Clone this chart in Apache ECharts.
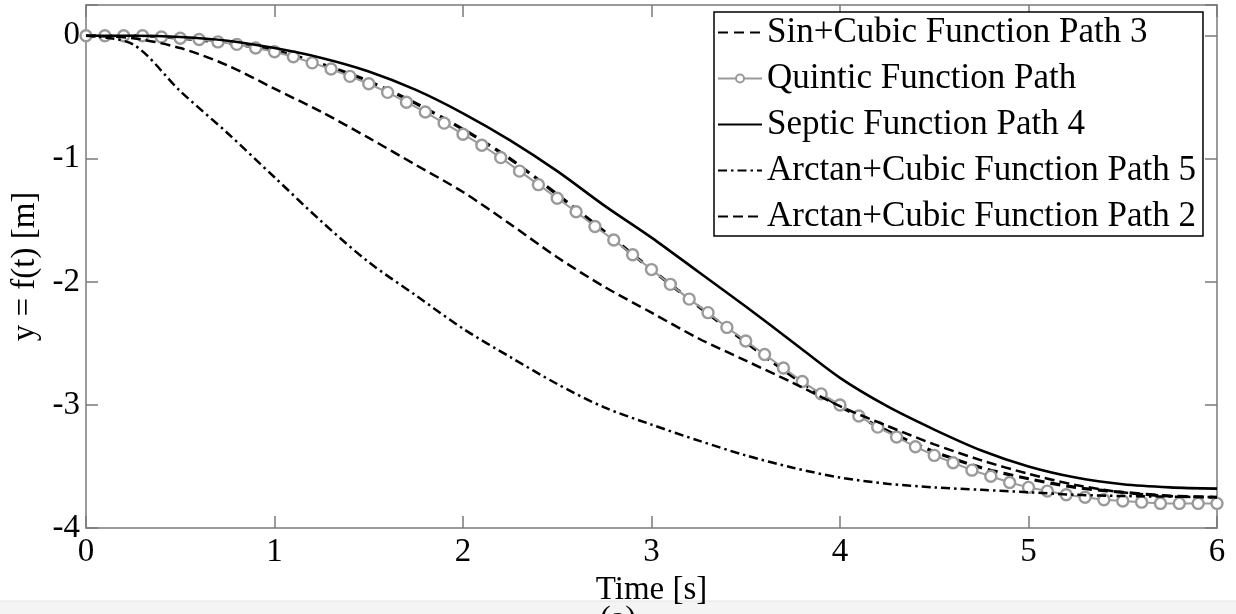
<!DOCTYPE html>
<html>
<head>
<meta charset="utf-8">
<script src="https://cdn.jsdelivr.net/npm/echarts@6/dist/echarts.min.js"></script>
<style>
html,body{margin:0;padding:0;background:#fff;}
#chart{width:1236px;height:614px;}
</style>
</head>
<body>
<div id="chart"></div>
<script>
// ---- data ----
const seriesNames = [
  'Sin+Cubic Function Path 3',
  'Quintic Function Path',
  'Septic Function Path 4',
  'Arctan+Cubic Function Path 5',
  'Arctan+Cubic Function Path 2'
];
const xTicks = [0, 1, 2, 3, 4, 5, 6];
const yTicks = [-4, -3, -2, -1, 0];

// time samples of the marked (quintic) curve
const tMarked = [0,0.1,0.2,0.3,0.4,0.5,0.6,0.7,0.8,0.9,1.0,1.1,1.2,1.3,1.4,1.5,1.6,1.7,1.8,1.9,2.0,
  2.1,2.2,2.3,2.4,2.5,2.6,2.7,2.8,2.9,3.0,3.1,3.2,3.3,3.4,3.5,3.6,3.7,3.8,3.9,4.0,
  4.1,4.2,4.3,4.4,4.5,4.6,4.7,4.8,4.9,5.0,5.1,5.2,5.3,5.4,5.5,5.6,5.7,5.8,5.9,6.0];
const quintic = [0,0,0,0,-0.01,-0.02,-0.03,-0.05,-0.07,-0.10,-0.13,-0.17,-0.22,-0.27,-0.33,-0.39,-0.46,-0.54,-0.62,-0.71,-0.80,
  -0.89,-0.99,-1.10,-1.21,-1.32,-1.43,-1.55,-1.66,-1.78,-1.90,-2.02,-2.14,-2.25,-2.37,-2.48,-2.59,-2.70,-2.81,-2.91,-3.00,
  -3.09,-3.18,-3.26,-3.34,-3.41,-3.47,-3.53,-3.58,-3.63,-3.67,-3.70,-3.73,-3.75,-3.77,-3.78,-3.79,-3.80,-3.80,-3.80,-3.80];

// time samples of the other curves
const tCurve = [0,0.25,0.5,0.75,1.0,1.25,1.5,1.75,2.0,2.25,2.5,2.75,3.0,3.25,3.5,3.75,4.0,4.25,4.5,4.75,5.0,5.25,5.5,5.75,6.0];
const sinCubic3 = [0,0,-0.02,-0.06,-0.12,-0.23,-0.37,-0.55,-0.76,-1.00,-1.29,-1.59,-1.90,-2.20,-2.49,-2.77,-3.01,-3.21,-3.38,-3.51,-3.60,-3.67,-3.71,-3.74,-3.75];
const septic4 = [0,0,-0.01,-0.04,-0.10,-0.18,-0.29,-0.44,-0.63,-0.85,-1.10,-1.38,-1.64,-1.92,-2.20,-2.49,-2.78,-3.01,-3.20,-3.37,-3.50,-3.59,-3.645,-3.67,-3.68];
const arctan5 = [0,-0.07,-0.45,-0.79,-1.15,-1.51,-1.84,-2.11,-2.38,-2.61,-2.83,-3.02,-3.16,-3.29,-3.41,-3.51,-3.59,-3.64,-3.67,-3.69,-3.71,-3.73,-3.74,-3.745,-3.75];
const arctan2 = [0,-0.02,-0.10,-0.24,-0.43,-0.62,-0.83,-1.05,-1.27,-1.53,-1.80,-2.04,-2.25,-2.46,-2.64,-2.82,-3.01,-3.17,-3.32,-3.45,-3.56,-3.65,-3.71,-3.74,-3.75];

const pair = (ts, ys) => ts.map((t, i) => [t, ys[i]]);

const FONT = 'Liberation Serif';
const FRAME = '#7a7a7a';

const chart = echarts.init(document.getElementById('chart'), null, {renderer: 'canvas'});

const axisCommon = {
  type: 'value',
  splitLine: {show: false},
  axisLine: {show: true, onZero: false, lineStyle: {color: FRAME, width: 1.5}},
  axisTick: {show: true, inside: true, length: 12, lineStyle: {color: FRAME, width: 1.5}}
};

const legendData = seriesNames.map((n, i) => (
  i === 1 ? {name: n} : {name: n, itemStyle: {opacity: 0}}
));

chart.setOption({
  backgroundColor: '#fff',
  animation: false,
  grid: {left: 86, right: 19, top: 5, bottom: 86, containLabel: false},
  xAxis: [
    Object.assign({}, axisCommon, {
      min: xTicks[0], max: xTicks[xTicks.length - 1], interval: 1, position: 'bottom',
      name: 'Time [s]', nameLocation: 'middle', nameGap: 36,
      nameTextStyle: {fontFamily: FONT, fontSize: 33, color: '#000'},
      axisLabel: {fontFamily: FONT, fontSize: 33, color: '#000', margin: 8}
    }),
    Object.assign({}, axisCommon, {
      min: xTicks[0], max: xTicks[xTicks.length - 1], interval: 1, position: 'top',
      axisLabel: {show: false}
    })
  ],
  yAxis: [
    Object.assign({}, axisCommon, {
      min: yTicks[0], max: 0.25, interval: 1, position: 'left',
      name: 'y = f(t) [m]', nameLocation: 'middle', nameGap: 34, nameRotate: 90,
      nameTextStyle: {fontFamily: FONT, fontSize: 33, color: '#000'},
      axisLabel: {fontFamily: FONT, fontSize: 33, color: '#000', margin: 6,
        formatter: v => (yTicks.indexOf(v) >= 0 ? String(v) : '')}
    }),
    Object.assign({}, axisCommon, {
      min: yTicks[0], max: 0.25, interval: 1, position: 'right',
      axisLabel: {show: false}
    })
  ],
  legend: {
    orient: 'vertical',
    left: 714, top: 12,
    padding: [2, 7, 1, 3],
    itemGap: 9,
    itemWidth: 44, itemHeight: 10,
    backgroundColor: '#fff',
    borderColor: '#000', borderWidth: 1.5, borderRadius: 0,
    textStyle: {fontFamily: FONT, fontSize: 35, color: '#000', lineHeight: 37},
    data: legendData
  },
  series: [
    {
      name: seriesNames[0], type: 'line', data: pair(tCurve, sinCubic3),
      showSymbol: false, symbol: 'none', smooth: 0.3,
      lineStyle: {color: '#000', width: 3.2, type: [10, 6]}, itemStyle: {color: '#000'}, z: 3
    },
    {
      name: seriesNames[1], type: 'line', data: pair(tMarked, quintic),
      symbol: 'circle', symbolSize: 11, showSymbol: true, smooth: false,
      lineStyle: {color: '#9a9a9a', width: 2},
      itemStyle: {color: '#fff', borderColor: '#9a9a9a', borderWidth: 2.4}, z: 4
    },
    {
      name: seriesNames[2], type: 'line', data: pair(tCurve, septic4),
      showSymbol: false, symbol: 'none', smooth: 0.3,
      lineStyle: {color: '#000', width: 2.6, type: 'solid'}, itemStyle: {color: '#000'}, z: 5
    },
    {
      name: seriesNames[3], type: 'line', data: pair(tCurve, arctan5),
      showSymbol: false, symbol: 'none', smooth: 0.3,
      lineStyle: {color: '#000', width: 2.5, type: [9, 4, 2.5, 4]}, itemStyle: {color: '#000'}, z: 5
    },
    {
      name: seriesNames[4], type: 'line', data: pair(tCurve, arctan2),
      showSymbol: false, symbol: 'none', smooth: 0.3,
      lineStyle: {color: '#000', width: 2.5, type: [10, 5]}, itemStyle: {color: '#000'}, z: 5
    }
  ],
  graphic: [
    {type: 'rect', shape: {x: 0, y: 601, width: 1236, height: 13}, style: {fill: '#f4f4f4'}, z: -1},
    {type: 'line', shape: {x1: 0, y1: 601, x2: 1236, y2: 601}, style: {stroke: '#e2e2e2', lineWidth: 1}},
    {type: 'text', x: 618, y: 604, style: {text: '(a)', font: '33px "Liberation Serif"', fill: '#000', textAlign: 'center', textVerticalAlign: 'top'}}
  ]
});
</script>
</body>
</html>
